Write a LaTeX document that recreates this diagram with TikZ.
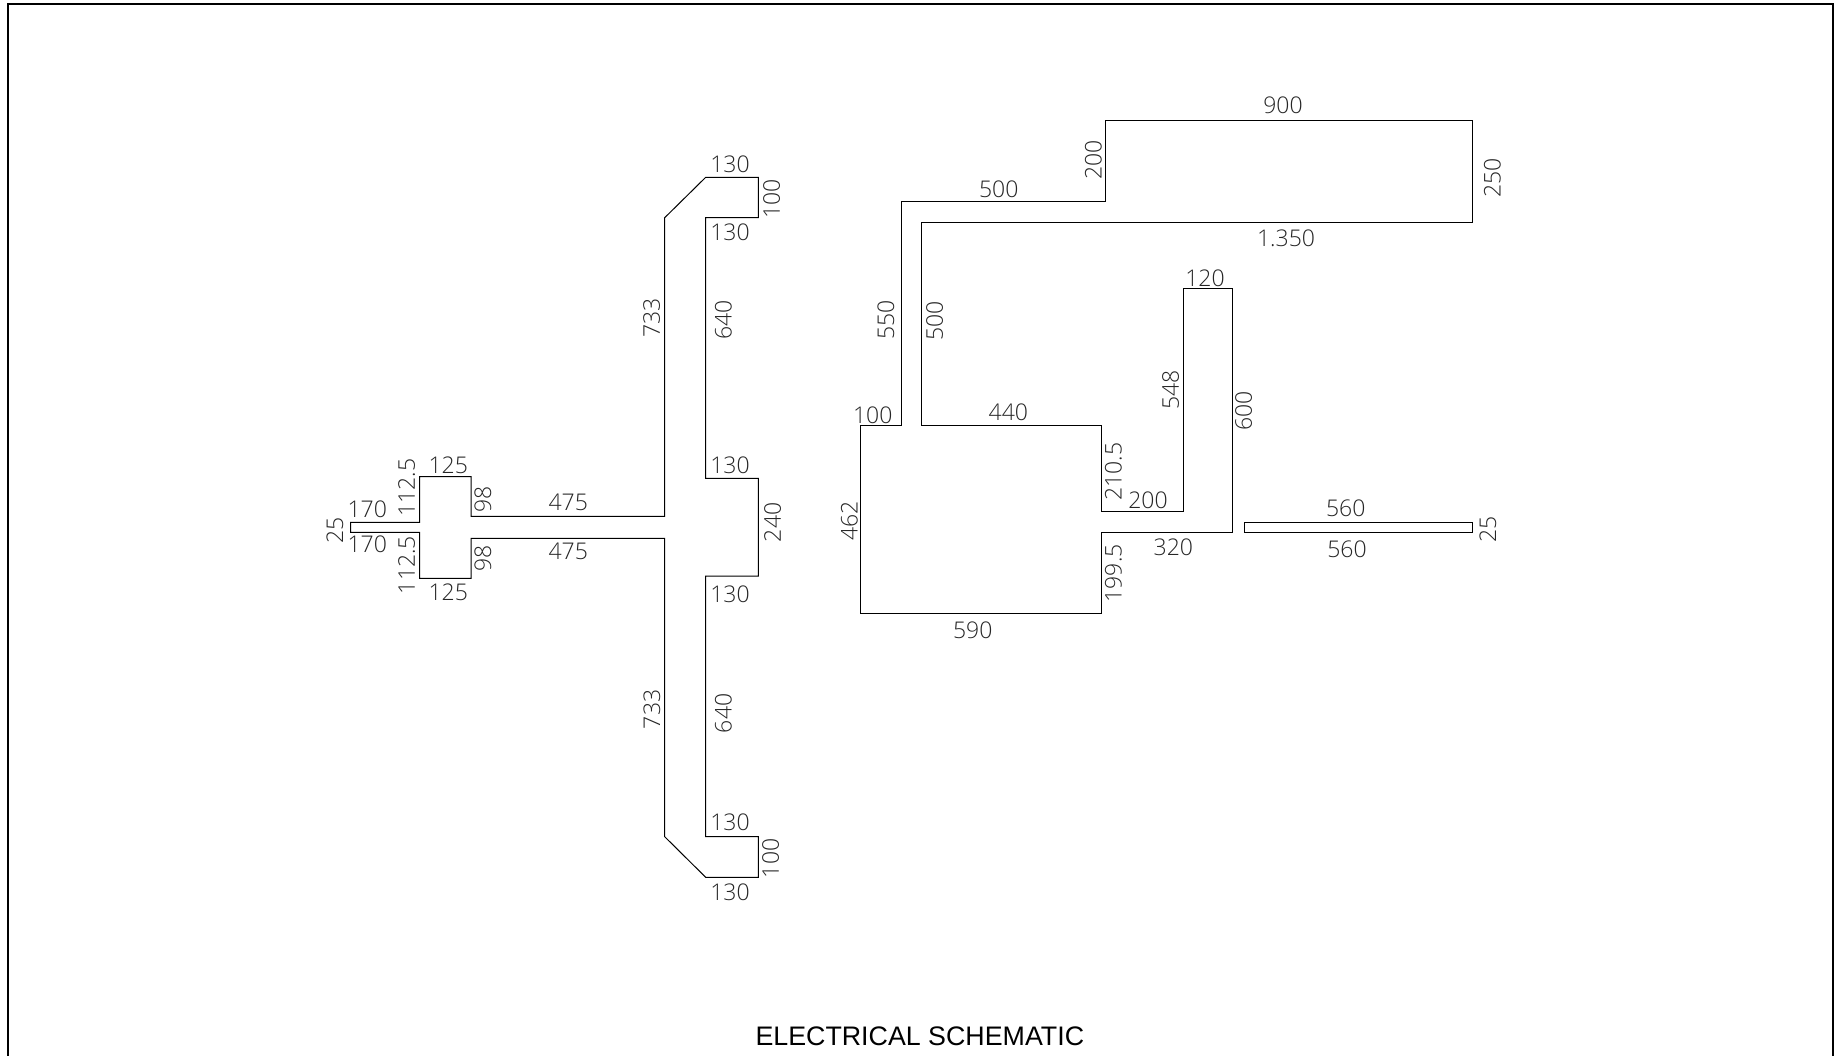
\documentclass[tikz,border=0pt]{standalone}
\usepackage{fontspec}
\setmainfont{Liberation Sans}
\newfontfamily\dimfont{Open Sans Light}
\tikzset{
  outline/.style={draw=black,line width=1pt,line join=miter},
  frameline/.style={draw=black,line width=2pt},
  dimh/.style={inner sep=0pt,font=\dimfont\fontsize{23}{23}\selectfont,text=black!85},
  dimv/.style={dimh,rotate=90},
  titletext/.style={inner sep=0pt,font=\fontsize{26.8}{27}\selectfont}
}
\begin{document}
\begin{tikzpicture}[x=1pt,y=-1pt]
\useasboundingbox (0,0) rectangle (1835,1055);
\fill[white] (0,0) rectangle (1835,1055);
% frame
\draw[frameline] (8,1056) -- (8,4) -- (1832.5,4) -- (1832.5,1056);
% left shape
\draw[outline] (350.7,522.3) -- (419.7,522.3) -- (419.7,476.7) -- (471,476.7) -- (471,516.3) -- (664.7,516.3) -- (664.7,217.7) -- (705.7,177.3) -- (758.3,177.3) -- (758.3,217.7) -- (705.7,217.7) -- (705.7,478.3) -- (758.3,478.3) -- (758.3,576) -- (705.7,576) -- (705.7,836.7) -- (758.3,836.7) -- (758.3,877.3) -- (705.7,877.3) -- (664.7,836.7) -- (664.7,538.3) -- (471,538.3) -- (471,578.3) -- (419.7,578.3) -- (419.7,532.3) -- (350.7,532.3) -- cycle;
% right shape
\draw[outline] (1105.7,120.3) -- (1472.3,120.3) -- (1472.3,222.3) -- (921.7,222.3) -- (921.7,425.3) -- (1101.3,425.3) -- (1101.3,511) -- (1183,511) -- (1183,288.3) -- (1232,288.3) -- (1232,532.3) -- (1101.3,532.3) -- (1101.3,613.3) -- (860.7,613.3) -- (860.7,425.3) -- (901.3,425.3) -- (901.3,201.7) -- (1105.7,201.7) -- cycle;
% strip
\draw[outline] (1244,522.3) rectangle (1472.3,532.3);
% left labels
\node[dimh] (a1) at (730,164) {130};
\node[dimv] (a2) at (771.7,199.3) {100};
\node[dimh] (a3) at (730,232.7) {130};
\node[dimv] (a4) at (651.7,318.3) {733};
\node[dimv] (a5) at (723.3,320) {640};
\node[dimh] (a6) at (730,465) {130};
\node[dimv] (a7) at (772.7,522.3) {240};
\node[dimh] (a8) at (730,594.3) {130};
\node[dimh] (a9) at (448.3,465) {125};
\node[dimv] (a10) at (406.7,487.7) {112.5};
\node[dimv] (a11) at (483,499) {98};
\node[dimh] (a12) at (568.3,502) {475};
\node[dimh] (a13) at (367.3,509.3) {170};
\node[dimv] (a14) at (335,530) {25};
\node[dimh] (a15) at (367.3,544.7) {170};
\node[dimv] (a16) at (406.7,565) {112.5};
\node[dimv] (a17) at (483,558) {98};
\node[dimh] (a18) at (568.3,551.7) {475};
\node[dimh] (a19) at (448.3,592.3) {125};
\node[dimv] (a20) at (652,709.3) {733};
\node[dimv] (a21) at (723.3,713.3) {640};
\node[dimh] (a22) at (730,822.7) {130};
\node[dimv] (a23) at (770.7,858.3) {100};
\node[dimh] (a24) at (730,892) {130};
% right labels
\node[dimh] (b1) at (1283,105.3) {900};
\node[dimv] (b2) at (1093.3,160) {200};
\node[dimv] (b3) at (1492.3,177.7) {250};
\node[dimh] (b4) at (998.7,189.3) {500};
\node[dimh] (b5) at (1286,238) {1.350};
\node[dimv] (b6) at (886,320) {550};
\node[dimv] (b7) at (934.7,321) {500};
\node[dimh] (b8) at (1205,278.3) {120};
\node[dimv] (b9) at (1170.7,390) {548};
\node[dimv] (b10) at (1243.7,410.7) {600};
\node[dimh] (b11) at (872.7,415) {100};
\node[dimh] (b12) at (1008.3,412.7) {440};
\node[dimv] (b13) at (1113.3,471.7) {210.5};
\node[dimh] (b14) at (1148,500) {200};
\node[dimv] (b15) at (849.3,521) {462};
\node[dimh] (b16) at (1345.7,508.3) {560};
\node[dimv] (b17) at (1488,529.3) {25};
\node[dimh] (b18) at (1173.3,547.7) {320};
\node[dimh] (b19) at (1347,549) {560};
\node[dimv] (b20) at (1113.3,573.3) {199.5};
\node[dimh] (b21) at (972.7,630) {590};
% title
\node[titletext] (title) at (919.8,1036.3) {ELECTRICAL SCHEMATIC};
\end{tikzpicture}
\end{document}
